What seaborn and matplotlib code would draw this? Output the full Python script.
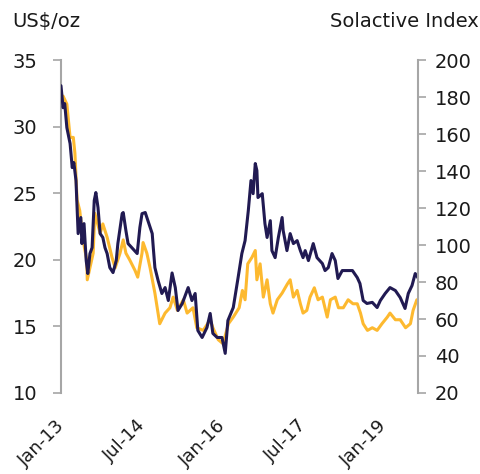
import numpy as np
import pandas as pd
import matplotlib
matplotlib.use("Agg")
import matplotlib.pyplot as plt
import matplotlib.transforms as mtransforms
import seaborn as sns

# Silver price (US$/oz, left axis) - dates as decimal years
silver_t = [2013.00, 2013.04, 2013.11, 2013.17, 2013.23, 2013.26, 2013.30, 2013.35, 2013.41, 2013.48,
            2013.49, 2013.60, 2013.63, 2013.73, 2013.78, 2013.86, 2013.95, 2014.01, 2014.10, 2014.16,
            2014.21, 2014.28, 2014.38, 2014.43, 2014.51, 2014.53, 2014.60, 2014.66, 2014.75, 2014.84,
            2014.94, 2015.03, 2015.09, 2015.17, 2015.28, 2015.35, 2015.46, 2015.53, 2015.65, 2015.78,
            2015.83, 2015.93, 2016.02, 2016.12, 2016.21, 2016.32, 2016.38, 2016.43, 2016.48, 2016.56,
            2016.62, 2016.65, 2016.71, 2016.77, 2016.84, 2016.90, 2016.95, 2017.03, 2017.12, 2017.22,
            2017.27, 2017.33, 2017.40, 2017.46, 2017.51, 2017.58, 2017.64, 2017.72, 2017.79, 2017.87,
            2017.96, 2018.02, 2018.11, 2018.17, 2018.26, 2018.35, 2018.44, 2018.52, 2018.58, 2018.63,
            2018.71, 2018.80, 2018.89, 2018.98, 2019.08, 2019.13, 2019.23, 2019.32, 2019.42, 2019.51,
            2019.56, 2019.63]
silver_v = [31.6, 32.3, 31.7, 29.2, 29.2, 28.0, 24.5, 23.7, 21.5, 20.0,
            18.5, 20.5, 23.5, 22.0, 22.7, 21.7, 20.2, 19.4, 20.5, 21.5,
            20.5, 20.0, 19.2, 18.7, 20.5, 21.3, 20.5, 19.4, 17.5, 15.2,
            16.0, 16.4, 17.2, 16.2, 17.0, 16.0, 16.4, 14.9, 14.7, 15.5,
            14.9, 14.0, 13.7, 15.2, 15.7, 16.4, 17.7, 17.0, 19.7, 20.2,
            20.7, 18.5, 19.7, 17.2, 18.5, 16.7, 16.0, 17.0, 17.5, 18.2,
            18.5, 17.2, 17.7, 16.7, 16.0, 16.2, 17.2, 17.9, 17.0, 17.2,
            15.7, 17.0, 17.2, 16.4, 16.4, 17.0, 16.7, 16.7, 16.0, 15.2,
            14.7, 14.9, 14.7, 15.2, 15.7, 16.0, 15.5, 15.5, 14.9, 15.2,
            16.2, 17.0]

# Solactive index (right axis)
index_t = [2013.00, 2013.04, 2013.07, 2013.11, 2013.17, 2013.21, 2013.24, 2013.28, 2013.32, 2013.37,
           2013.39, 2013.43, 2013.47, 2013.50, 2013.54, 2013.58, 2013.62, 2013.65, 2013.69, 2013.73,
           2013.78, 2013.82, 2013.86, 2013.91, 2013.97, 2014.03, 2014.06, 2014.14, 2014.16, 2014.21,
           2014.25, 2014.32, 2014.42, 2014.47, 2014.51, 2014.57, 2014.62, 2014.70, 2014.72, 2014.75,
           2014.81, 2014.88, 2014.94, 2015.00, 2015.07, 2015.13, 2015.18, 2015.26, 2015.37, 2015.44,
           2015.50, 2015.55, 2015.63, 2015.72, 2015.78, 2015.83, 2015.91, 2016.00, 2016.06, 2016.11,
           2016.21, 2016.30, 2016.37, 2016.43, 2016.49, 2016.54, 2016.58, 2016.62, 2016.65, 2016.67,
           2016.75, 2016.80, 2016.84, 2016.90, 2016.93, 2016.99, 2017.05, 2017.12, 2017.14, 2017.21,
           2017.27, 2017.33, 2017.40, 2017.46, 2017.51, 2017.55, 2017.61, 2017.70, 2017.77, 2017.87,
           2017.92, 2017.98, 2018.05, 2018.11, 2018.16, 2018.24, 2018.33, 2018.43, 2018.52, 2018.57,
           2018.63, 2018.70, 2018.80, 2018.89, 2018.95, 2019.04, 2019.13, 2019.23, 2019.32, 2019.41,
           2019.47, 2019.54, 2019.60, 2019.66]
index_v = [186.2, 174.3, 176.5, 163.5, 154.9, 141.9, 144.6, 134.9, 106.2, 114.9,
           100.8, 111.6, 91.6, 84.6, 95.4, 98.6, 124.1, 128.4, 120.3, 106.2,
           104.1, 98.6, 95.4, 87.8, 85.1, 91.6, 100.8, 117.0, 117.6, 107.8,
           100.8, 98.6, 95.4, 109.5, 117.0, 117.6, 113.2, 106.2, 98.6, 87.8,
           80.8, 73.8, 77.0, 70.0, 84.9, 77.0, 64.6, 68.4, 77.0, 70.0,
           73.8, 53.8, 50.0, 55.4, 63.0, 52.2, 50.0, 50.0, 41.4, 59.2,
           66.2, 82.4, 95.4, 102.4, 118.6, 134.9, 127.8, 144.1, 140.3, 125.7,
           127.8, 111.6, 104.1, 113.2, 97.0, 93.2, 104.1, 114.9, 107.8, 97.0,
           106.2, 100.8, 102.4, 97.0, 93.2, 97.0, 91.6, 100.8, 93.2, 90.0,
           86.2, 87.8, 95.4, 91.6, 81.9, 86.2, 86.2, 86.2, 82.4, 79.2,
           70.0, 68.4, 69.0, 66.2, 70.0, 73.8, 77.0, 75.4, 71.6, 65.7,
           73.8, 78.1, 84.6, 81.9]

tick_dates = ["2013-01-01", "2014-07-01", "2016-01-01", "2017-07-01", "2019-01-01"]
tick_labels = ["Jan-13", "Jul-14", "Jan-16", "Jul-17", "Jan-19"]
left_ticks = [10, 15, 20, 25, 30, 35]
right_ticks = [20, 40, 60, 80, 100, 120, 140, 160, 180, 200]


def to_dates(ts):
    ts = np.asarray(ts, dtype=float)
    return pd.to_datetime("2013-01-01") + pd.to_timedelta((ts - 2013.0) * 365.25, unit="D")


df_s = pd.DataFrame({"date": to_dates(silver_t), "value": silver_v})
df_i = pd.DataFrame({"date": to_dates(index_t), "value": index_v})

sns.set_style("white")
plt.rcParams["font.family"] = ["DejaVu Sans"]

ORANGE = "#FDB92F"
NAVY = "#211A52"
GREY = "#A6A6A6"
TXT = "#1a1a1a"

fig = plt.figure(figsize=(4.8, 4.74), dpi=100)
ax = fig.add_axes([0.127, 0.171, 0.744, 0.702])
sns.lineplot(data=df_s, x="date", y="value", ax=ax, color=ORANGE, linewidth=2.2)
ax2 = ax.twinx()
sns.lineplot(data=df_i, x="date", y="value", ax=ax2, color=NAVY, linewidth=2.2)

ax.set_xlim(pd.Timestamp("2013-01-01"), pd.Timestamp("2019-08-28"))
ax.set_ylim(10, 35)
ax2.set_ylim(20, 200)
ax.set_yticks(left_ticks)
ax2.set_yticks(right_ticks)
ax.set_xticks(pd.to_datetime(tick_dates))
ax.set_xticklabels(tick_labels, rotation=45, ha="right", rotation_mode="anchor")

for a in (ax, ax2):
    a.set_xlabel("")
    a.set_ylabel("")
    for s in a.spines.values():
        s.set_visible(False)
    a.grid(False)

ax.spines["left"].set_visible(True)
ax.spines["left"].set_color(GREY)
ax.spines["left"].set_linewidth(1.5)
ax2.spines["right"].set_visible(True)
ax2.spines["right"].set_color(GREY)
ax2.spines["right"].set_linewidth(1.5)

ax.tick_params(axis="y", direction="out", length=6, width=1.2, color=GREY,
               labelsize=14, pad=11, left=True, right=False, labelcolor=TXT)
ax2.tick_params(axis="y", direction="out", length=6, width=1.2, color=GREY,
                labelsize=14, pad=6, right=True, left=False, labelcolor=TXT)
ax.tick_params(axis="x", length=0, labelsize=13, pad=17, labelcolor=TXT)

offset = mtransforms.ScaledTranslation(-5 / 100, 0, fig.dpi_scale_trans)
for lbl in ax.get_xticklabels():
    lbl.set_transform(lbl.get_transform() + offset)

fig.text(0.025, 0.955, "US$/oz", fontsize=14, ha="left", va="center", color=TXT)
fig.text(0.997, 0.955, "Solactive Index", fontsize=14, ha="right", va="center", color=TXT)

fig.savefig("out.png", dpi=100)
